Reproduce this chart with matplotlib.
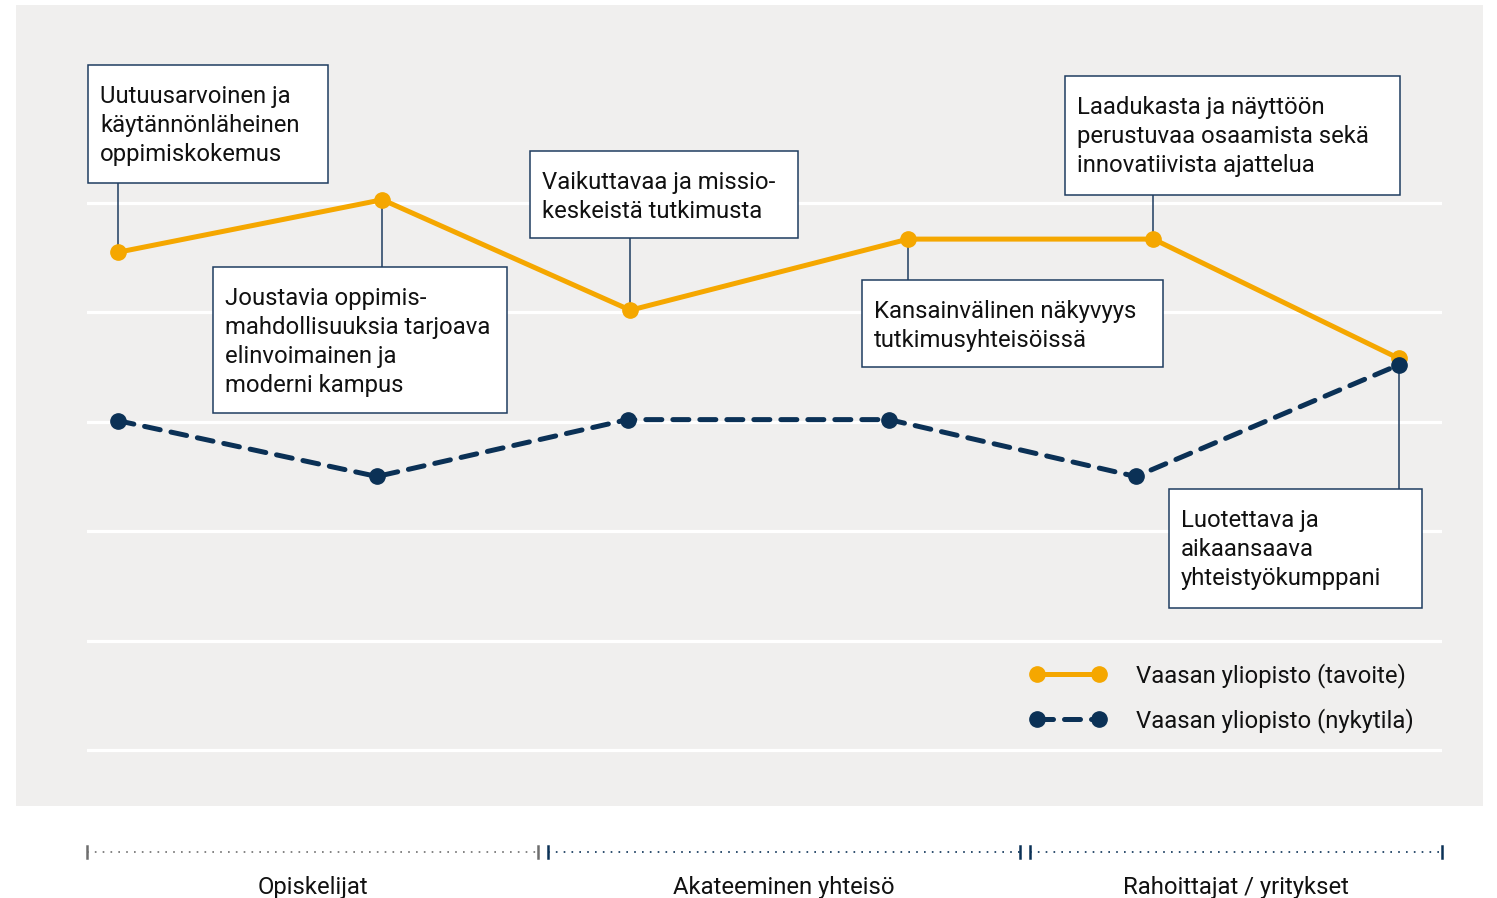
import matplotlib
matplotlib.use("Agg")
import matplotlib.pyplot as plt
from matplotlib.patches import Rectangle
from matplotlib.lines import Line2D

plt.rcParams['font.family'] = ['Roboto', 'DejaVu Sans']

# ---------------- data ----------------
target_label = "Vaasan yliopisto (tavoite)"
current_label = "Vaasan yliopisto (nykytila)"
target_x = [2.3, 21.8, 40.1, 60.6, 78.7, 96.8]
target_y = [4.55, 5.03, 4.02, 4.67, 4.67, 3.58]
current_x = [2.3, 21.4, 39.9, 59.2, 77.4, 96.8]
current_y = [3.01, 2.50, 3.02, 3.02, 2.50, 3.52]

annotations = [
    ["Uutuusarvoinen ja", "käytännönläheinen", "oppimiskokemus"],
    ["Joustavia oppimis-", "mahdollisuuksia tarjoava", "elinvoimainen ja", "moderni kampus"],
    ["Vaikuttavaa ja missio-", "keskeistä tutkimusta"],
    ["Kansainvälinen näkyvyys", "tutkimusyhteisöissä"],
    ["Laadukasta ja näyttöön", "perustuvaa osaamista sekä", "innovatiivista ajattelua"],
    ["Luotettava ja", "aikaansaava", "yhteistyökumppani"],
]
annot_series = ["t", "t", "t", "t", "t", "c"]

groups = ["Opiskelijat", "Akateeminen yhteisö", "Rahoittajat / yritykset"]

# ---------------- style ----------------
W, H = 1497, 898
ORANGE = "#F5A700"
NAVY = "#0B3156"
BOXEDGE = "#1F3D60"
PANEL = "#F0EFEE"
GRAYDOT = "#6E6E6E"
FS = 17.2

fig = plt.figure(figsize=(W / 100, H / 100), dpi=100)
fig.patch.set_facecolor("white")

def fx(px):
    return px / W

def fy(py):
    return 1 - py / H

# gray panel
fig.patches.append(Rectangle((fx(16), fy(806)), fx(1483) - fx(16), fy(5) - fy(806),
                             transform=fig.transFigure, facecolor=PANEL,
                             edgecolor="none", zorder=-5))

ax = fig.add_axes([fx(87), fy(806), fx(1442) - fx(87), fy(5) - fy(806)])
ax.set_facecolor("none")
ax.set_zorder(1)
unit = 109.4
ax.set_xlim(0, 100)
ax.set_ylim((750 - 806) / unit, (750 - 5) / unit)
ax.axis("off")

for g in range(6):
    ax.axhline(g, color="white", lw=2.3, zorder=1)

(l_t,) = ax.plot(target_x, target_y, color=ORANGE, lw=3.6, marker="o", ms=11,
                 solid_capstyle="round", zorder=4, label=target_label)
(l_c,) = ax.plot(current_x, current_y, color=NAVY, lw=3.6, marker="o", ms=11,
                 dashes=(3.2, 2.2), dash_capstyle="round", zorder=5, label=current_label)

# annotation boxes (pixel layout: left, top, right, bottom)
boxes = [
    (88, 65, 328, 183),
    (213, 267, 507, 413),
    (530, 151, 798, 238),
    (862, 280, 1163, 367),
    (1065, 76, 1400, 195),
    (1169, 489, 1422, 608),
]

def data_y(py):
    return (750 - py) / unit

for i, (lines, (l, t, r, b)) in enumerate(zip(annotations, boxes)):
    fig.patches.append(Rectangle((fx(l), fy(b)), fx(r) - fx(l), fy(t) - fy(b),
                                 transform=fig.transFigure, facecolor="white",
                                 edgecolor=BOXEDGE, lw=1.1, zorder=6))
    for k, s in enumerate(lines):
        fig.text(fx(l + 12), fy(t + 29 + 29 * k), s, fontsize=FS, color="#111111",
                 ha="left", va="center_baseline", zorder=7)
    if annot_series[i] == "t":
        xs, ys = target_x[i], target_y[i]
    else:
        xs, ys = current_x[i], current_y[i]
    edge = b if data_y(b) > ys else t
    ax.plot([xs, xs], [ys, data_y(edge)], color=BOXEDGE, lw=1.1, zorder=3)

# legend
leg = ax.legend(handles=[l_t, l_c], loc="upper left",
                bbox_to_anchor=(fx(1030), fy(663)), bbox_transform=fig.transFigure,
                frameon=False, fontsize=FS, numpoints=2, handlelength=3.18,
                handletextpad=1.26, labelspacing=0.83, borderpad=0, borderaxespad=0)
for txt in leg.get_texts():
    txt.set_color("#111111")

# bottom group axis
segments = [(87, 538, GRAYDOT), (548, 1020, NAVY), (1030, 1442, NAVY)]
yline = 852
for (a, b, col), name in zip(segments, groups):
    fig.lines.append(Line2D([fx(a), fx(b)], [fy(yline), fy(yline)], transform=fig.transFigure,
                            color=col, lw=1.2, dashes=(1, 3.7), zorder=2))
    for xx in (a, b):
        fig.lines.append(Line2D([fx(xx), fx(xx)], [fy(yline - 6), fy(yline + 6)],
                                transform=fig.transFigure, color=col, lw=1.8, zorder=2))
    fig.text(fx((a + b) / 2), fy(885), name, fontsize=FS, color="#111111",
             ha="center", va="center_baseline")

fig.savefig("out.png", dpi=100)
